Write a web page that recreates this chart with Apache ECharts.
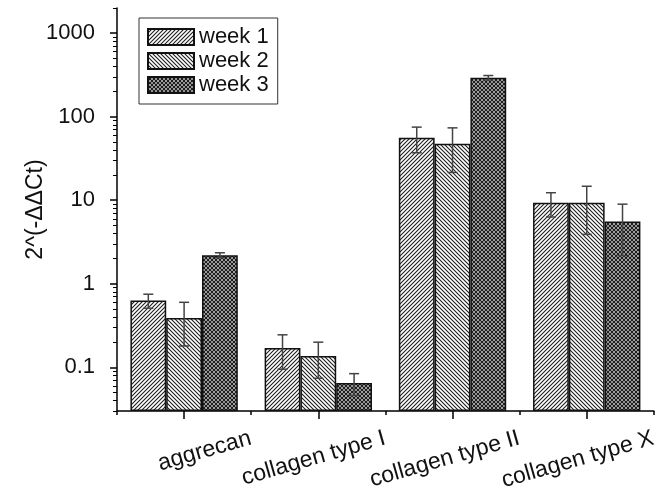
<!DOCTYPE html>
<html>
<head>
<meta charset="utf-8">
<script src="https://cdn.jsdelivr.net/npm/echarts@6/dist/echarts.min.js"></script>
<style>
  html, body { margin: 0; padding: 0; background: #fff; }
  #chart { width: 659px; height: 494px; }
</style>
</head>
<body>
<div id="chart"></div>
<script>
// categories and values
var categories = ["aggrecan", "collagen type I", "collagen type II", "collagen type X"];
var seriesNames = ["week 1", "week 2", "week 3"];
var week1 = [0.63, 0.17, 56, 9.3];
var week1Err = [0.12, 0.075, 19, 3.0];
var week2 = [0.39, 0.137, 47.5, 9.3];
var week2Err = [0.21, 0.063, 26, 5.4];
var week3 = [2.2, 0.065, 293, 5.57];
var week3Err = [0.15, 0.019, 18, 3.4];
var yTicks = [0.1, 1, 10, 100, 1000];

var FONT = "'Liberation Sans', Arial, sans-serif";
var Y_MIN = 0.03, Y_MAX = 2000;

// minor log ticks 2..9 in every decade
var minorTicks = [];
[0.01, 0.1, 1, 10, 100, 1000].forEach(function (d) {
  for (var k = 2; k <= 9; k++) {
    var t = +(d * k).toPrecision(3);
    if (t >= Y_MIN && t <= Y_MAX) minorTicks.push(t);
  }
});

// hatch patterns
function makePattern(kind) {
  var s = 4;
  var c = document.createElement("canvas");
  c.width = s; c.height = s;
  var ctx = c.getContext("2d");
  ctx.fillStyle = "#fff";
  ctx.fillRect(0, 0, s, s);
  ctx.strokeStyle = "#1e1e1e";
  ctx.lineWidth = 1.1;
  function fwd() {
    ctx.beginPath();
    ctx.moveTo(0, s); ctx.lineTo(s, 0);
    ctx.moveTo(-1, 1); ctx.lineTo(1, -1);
    ctx.moveTo(s - 1, s + 1); ctx.lineTo(s + 1, s - 1);
    ctx.stroke();
  }
  function back() {
    ctx.beginPath();
    ctx.moveTo(0, 0); ctx.lineTo(s, s);
    ctx.moveTo(-1, s - 1); ctx.lineTo(1, s + 1);
    ctx.moveTo(s - 1, -1); ctx.lineTo(s + 1, 1);
    ctx.stroke();
  }
  if (kind === 1) fwd();
  else if (kind === 2) back();
  else { ctx.lineWidth = 1.3; fwd(); back(); }
  return { image: c, repeat: "repeat" };
}

var values = [week1, week2, week3];
var errs = [week1Err, week2Err, week3Err];

function errRender(k) {
  return function (params, api) {
    var i = api.value(0);
    var lo = api.coord([i, api.value(1)]);
    var hi = api.coord([i, api.value(2)]);
    var band = api.coord([1, api.value(2)])[0] - api.coord([0, api.value(2)])[0];
    var bw = band * 0.8 / 3;
    var x = lo[0] + (k - 1) * bw;
    var cap = 5;
    var st = { stroke: "#444", lineWidth: 1.5 };
    return {
      type: "group",
      children: [
        { type: "line", shape: { x1: x, y1: lo[1], x2: x, y2: hi[1] }, style: st },
        { type: "line", shape: { x1: x - cap, y1: hi[1], x2: x + cap, y2: hi[1] }, style: st },
        { type: "line", shape: { x1: x - cap, y1: lo[1], x2: x + cap, y2: lo[1] }, style: st }
      ]
    };
  };
}

var series = [];
values.forEach(function (v, k) {
  series.push({
    name: seriesNames[k],
    type: "bar",
    data: v,
    barGap: "0%",
    barCategoryGap: "20%",
    itemStyle: { color: makePattern(k + 1), borderColor: "#111", borderWidth: 1.5 },
    z: 2
  });
});
values.forEach(function (v, k) {
  series.push({
    type: "custom",
    renderItem: errRender(k),
    encode: { x: 0, y: [1, 2] },
    data: v.map(function (val, i) { return [i, val - errs[k][i], val + errs[k][i]]; }),
    z: 5
  });
});

var chart = echarts.init(document.getElementById("chart"));
chart.setOption({
  animation: false,
  backgroundColor: "#fff",
  textStyle: { fontFamily: FONT },
  grid: { left: 117, right: 2, top: 8, bottom: 83, containLabel: false },
  legend: {
    data: seriesNames,
    icon: "rect",
    orient: "vertical",
    left: 139,
    top: 18,
    padding: [8, 9, 8, 8],
    itemGap: 2,
    itemWidth: 46,
    itemHeight: 16,
    borderColor: "#333",
    borderWidth: 1,
    textStyle: { fontSize: 22, color: "#111", fontFamily: FONT }
  },
  xAxis: [
    {
      type: "category",
      data: categories,
      axisLine: { show: true, lineStyle: { color: "#000", width: 1.5 } },
      axisTick: { show: true, alignWithLabel: true, length: 8, lineStyle: { color: "#000", width: 1.5 } },
      axisLabel: {
        interval: 0,
        rotate: 16,
        align: "right",
        verticalAlign: "top",
        margin: 34,
        padding: [0, -66, 0, 0],
        fontSize: 23,
        color: "#111",
        fontFamily: FONT
      }
    },
    {
      type: "category",
      data: categories,
      position: "bottom",
      axisLine: { show: false },
      axisTick: { show: true, length: 4, lineStyle: { color: "#000", width: 1.5 } },
      axisLabel: { show: false }
    }
  ],
  yAxis: [
    {
      type: "log",
      min: Y_MIN,
      max: Y_MAX,
      startValue: Y_MIN,
      name: "2^(-ΔΔCt)",
      nameLocation: "middle",
      nameGap: 70,
      nameMoveOverlap: false,
      nameTextStyle: { fontSize: 23, color: "#111", fontFamily: FONT },
      splitLine: { show: false },
      axisLine: { show: true, lineStyle: { color: "#000", width: 1.5 } },
      axisTick: { show: true, customValues: yTicks, length: 7, lineStyle: { color: "#000", width: 1.5 } },
      axisLabel: {
        customValues: yTicks,
        margin: 22,
        fontSize: 22,
        color: "#111",
        fontFamily: FONT,
        formatter: function (v) { return String(v); }
      }
    },
    {
      type: "log",
      min: Y_MIN,
      max: Y_MAX,
      position: "left",
      splitLine: { show: false },
      axisLine: { show: false },
      axisTick: { show: true, customValues: minorTicks, length: 4, lineStyle: { color: "#000", width: 1 } },
      axisLabel: { show: false }
    }
  ],
  series: series
});
</script>
</body>
</html>
